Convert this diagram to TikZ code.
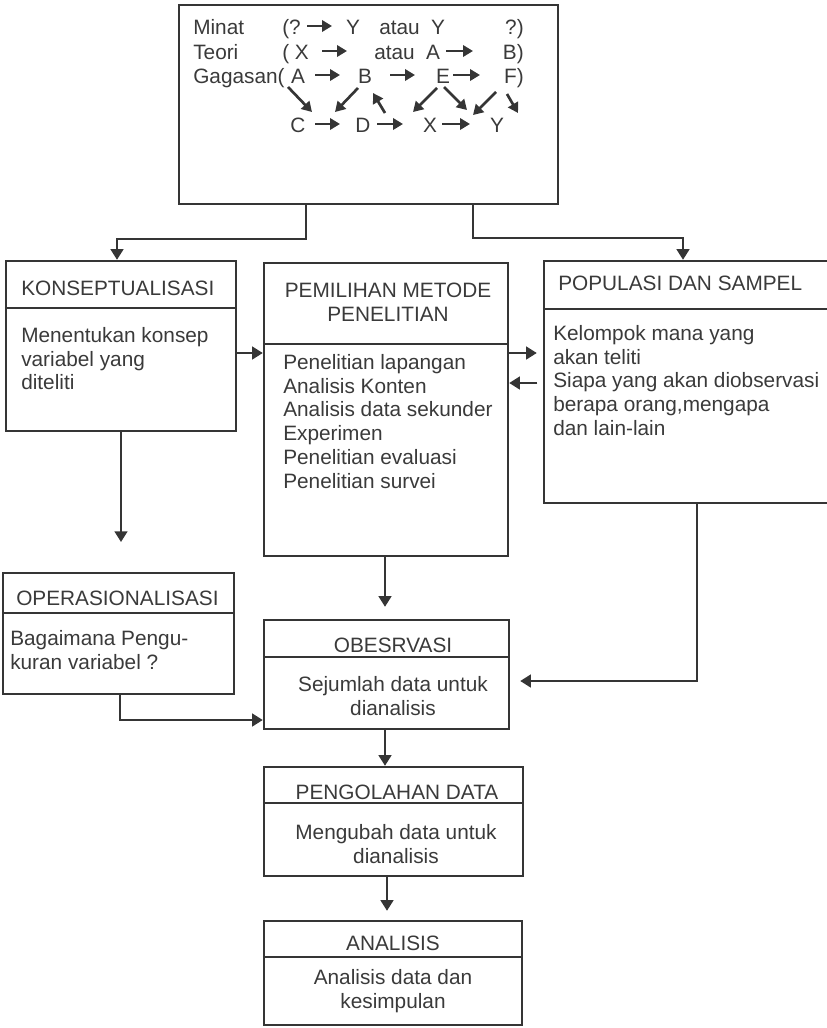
\documentclass[tikz,border=0pt]{standalone}
\usepackage{fontspec}
\setmainfont{Liberation Sans}
\usetikzlibrary{arrows.meta,fit,calc}
\definecolor{ink}{HTML}{353535}
\definecolor{txt}{HTML}{3A3A3A}
\begin{document}
\begin{tikzpicture}[x=0.75pt,y=-0.75pt,
  font=\fontsize{15.6}{17.8}\selectfont, text=txt,
  box/.style={draw=ink,line width=1.8pt,inner sep=0pt,fit={#1}},
  ln/.style={draw=ink,line width=1.8pt},
  conn/.style={draw=ink,line width=1.8pt,-{Triangle[length=8pt,width=9.5pt]}},
  tarr/.style={draw=ink,line width=2pt,-{Triangle[length=7.5pt,width=8.5pt]}},
  lt/.style={inner sep=0pt,align=left},
  ct/.style={inner sep=0pt,align=center},
  gl/.style={inner sep=0pt}]
\useasboundingbox (0,0) rectangle (827,1028);
\clip (0,0) rectangle (827,1028);

% boxes
\node[box={(179,5)(558,204)}] (top) {};
\node[box={(6,261)(236,431)}] (konsep) {};
\node[box={(264,263)(508,556)}] (metode) {};
\node[box={(544,261)(845,503)}] (populasi) {};
\node[box={(3,573)(234,694)}] (operas) {};
\node[box={(264,620)(509,729)}] (observasi) {};
\node[box={(264,767)(523,876)}] (olah) {};
\node[box={(264,921)(522,1025)}] (analisis) {};

% dividers
\draw[ln] (konsep.west |- 0,308) -- (konsep.east |- 0,308);
\draw[ln] (metode.west |- 0,344) -- (metode.east |- 0,344);
\draw[ln] (populasi.west |- 0,309) -- (populasi.east |- 0,309);
\draw[ln] (operas.west |- 0,613) -- (operas.east |- 0,613);
\draw[ln] (observasi.west |- 0,657) -- (observasi.east |- 0,657);
\draw[ln] (olah.west |- 0,803) -- (olah.east |- 0,803);
\draw[ln] (analisis.west |- 0,957) -- (analisis.east |- 0,957);

% top box text
\node[gl,anchor=base west] (r1a) at (193,34) {Minat};
\node[gl,anchor=base west] (r1b) at (282,34) {(?};
\node[gl,anchor=base] (r1c) at (353,34) {Y};
\node[gl,anchor=base west] (r1d) at (379,34) {atau};
\node[gl,anchor=base] (r1e) at (438,34) {Y};
\node[gl,anchor=base east] (r1f) at (524,34) {?)};

\node[gl,anchor=base west] (r2a) at (193,59) {Teori};
\node[gl,anchor=base west] (r2b) at (282,59) {( X};
\node[gl,anchor=base west] (r2c) at (374,59) {atau};
\node[gl,anchor=base] (r2d) at (433,59) {A};
\node[gl,anchor=base east] (r2e) at (524,59) {B)};

\node[gl,anchor=base west] (r3a) at (193,83) {Gagasan(};
\node[gl,anchor=base] (r3b) at (298,83) {A};
\node[gl,anchor=base] (r3c) at (365,83) {B};
\node[gl,anchor=base] (r3d) at (443,83) {E};
\node[gl,anchor=base east] (r3e) at (524,83) {F)};

\node[gl,anchor=base] (r4a) at (298,132) {C};
\node[gl,anchor=base] (r4b) at (363,132) {D};
\node[gl,anchor=base] (r4c) at (430,132) {X};
\node[gl,anchor=base] (r4d) at (497,132) {Y};

% inline arrows
\draw[tarr] (307,26) -- (332,26);
\draw[tarr] (322,51) -- (347,51);
\draw[tarr] (446,51) -- (473,51);
\draw[tarr] (315,75) -- (340,75);
\draw[tarr] (390,75) -- (415,75);
\draw[tarr] (453,75) -- (480,75);
\draw[tarr] (315,124) -- (340,124);
\draw[tarr] (377,124) -- (403,124);
\draw[tarr] (442,124) -- (470,124);
% diagonal arrows
\draw[tarr] (288,87) -- (312,112);
\draw[tarr] (358,88) -- (335,112);
\draw[tarr] (385,113) -- (373,93);
\draw[tarr] (437,88) -- (413,112);
\draw[tarr] (444,87) -- (467,110);
\draw[tarr] (496,92) -- (473,115);
\draw[tarr] (507,94) -- (518,113);

% box texts
\node[lt,anchor=north west] (konsepT) at (21,280.5) {KONSEPTUALISASI};
\node[lt,anchor=north west] (konsepB) at (21,327) {Menentukan konsep\\variabel yang\\diteliti};
\node[ct,anchor=north] (metodeT) at (388,282.5) {PEMILIHAN METODE\\PENELITIAN};
\node[lt,anchor=north west] (metodeB) at (283,354) {Penelitian lapangan\\Analisis Konten\\Analisis data sekunder\\Experimen\\Penelitian evaluasi\\Penelitian survei};
\node[lt,anchor=north west] (populasiT) at (558,275.5) {POPULASI DAN SAMPEL};
\node[lt,anchor=north west] (populasiB) at (553,325) {Kelompok mana yang\\akan teliti\\Siapa yang akan diobservasi\\berapa orang,mengapa\\dan lain-lain};
\node[lt,anchor=north west] (operasT) at (16,590.5) {OPERASIONALISASI};
\node[lt,anchor=north west] (operasB) at (10,630) {Bagaimana Pengu-\\kuran variabel ?};
\node[ct,anchor=north] (observasiT) at (393,637.5) {OBESRVASI};
\node[ct,anchor=north] (observasiB) at (393,676) {Sejumlah data untuk\\dianalisis};
\node[ct,anchor=north] (olahT) at (397,784.5) {PENGOLAHAN DATA};
\node[ct,anchor=north] (olahB) at (396,824) {Mengubah data untuk\\dianalisis};
\node[ct,anchor=north] (analisisT) at (393,935.5) {ANALISIS};
\node[ct,anchor=north] (analisisB) at (393,969) {Analisis data dan\\kesimpulan};

% connectors
\coordinate (jl) at (306,239);
\coordinate (jk) at (117,239);
\draw[conn] (top.south -| jl) -- (jl) -- (jk) -- (konsep.north -| jk);
\coordinate (jr) at (473,238);
\coordinate (jp) at (683,238);
\draw[conn] (top.south -| jr) -- (jr) -- (jp) -- (populasi.north -| jp);
\coordinate (hk) at (0,353);
\draw[conn] (konsep.east |- hk) -- (metode.west |- hk);
\draw[conn,shorten >=4.5pt] (metode.east |- hk) -- (populasi.west |- hk);
\coordinate (hp) at (0,383);
\draw[conn,shorten <=4pt] (populasi.west |- hp) -- (metode.east |- hp);
\coordinate (kd) at (121,542);
\draw[conn] (konsep.south -| kd) -- (kd);
\coordinate (vm) at (385,0);
\draw[conn,shorten >=9pt] (metode.south -| vm) -- (observasi.north -| vm);
\coordinate (pv) at (697,681);
\draw[conn,shorten >=7.5pt] (populasi.south -| pv) -- (pv) -- (observasi.east |- pv);
\coordinate (ov) at (120,720);
\draw[conn] (operas.south -| ov) -- (ov) -- (observasi.west |- ov);
\draw[conn] (observasi.south -| vm) -- (olah.north -| vm);
\coordinate (va) at (387,0);
\draw[conn,shorten >=6.75pt] (olah.south -| va) -- (analisis.north -| va);
\end{tikzpicture}
\end{document}
